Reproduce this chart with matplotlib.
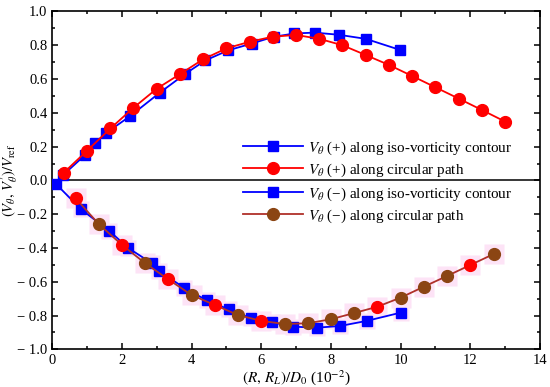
import matplotlib
matplotlib.use("Agg")
import matplotlib.pyplot as plt
from matplotlib.ticker import MultipleLocator
from matplotlib.lines import Line2D

plt.rcParams['font.family'] = ['Liberation Serif', 'DejaVu Serif']
plt.rcParams['mathtext.fontset'] = 'stix'

# Positive, iso-vorticity contour (blue squares)
x_pos_iso = [0.30, 0.94, 1.23, 1.54, 2.23, 3.09, 3.81, 4.39, 5.05, 5.72, 6.35, 6.95, 7.54, 8.23, 9.00, 9.99]
y_pos_iso = [0.03, 0.15, 0.22, 0.28, 0.38, 0.52, 0.63, 0.71, 0.77, 0.81, 0.85, 0.87, 0.875, 0.862, 0.838, 0.772]

# Positive, circular path (red circles)
x_pos_cir = [0.33, 1.00, 1.67, 2.33, 3.00, 3.67, 4.33, 5.00, 5.67, 6.33, 7.00, 7.67, 8.33, 9.00, 9.67,
             10.33, 11.00, 11.67, 12.33, 13.00]
y_pos_cir = [0.046, 0.176, 0.308, 0.430, 0.543, 0.630, 0.717, 0.782, 0.821, 0.851, 0.861, 0.838, 0.800,
             0.742, 0.683, 0.618, 0.551, 0.484, 0.417, 0.348]

# Negative, iso-vorticity contour (blue squares)
x_neg_iso = [0.10, 0.82, 1.64, 2.18, 2.85, 3.05, 3.78, 4.43, 5.06, 5.70, 6.30, 6.92, 7.59, 8.26, 9.02, 10.00]
y_neg_iso = [-0.02, -0.17, -0.30, -0.40, -0.49, -0.535, -0.635, -0.71, -0.763, -0.816, -0.84, -0.866,
             -0.872, -0.862, -0.832, -0.783]

# Negative, circular path (brown circles)
x_neg_cir = [0.67, 1.33, 2.00, 2.67, 3.33, 4.00, 4.67, 5.33, 6.00, 6.67, 7.33, 8.00, 8.67, 9.33, 10.00,
             10.67, 11.33, 12.00, 12.67]
y_neg_cir = [-0.106, -0.258, -0.382, -0.491, -0.586, -0.679, -0.738, -0.797, -0.832, -0.850, -0.846,
             -0.822, -0.785, -0.748, -0.694, -0.629, -0.566, -0.501, -0.436]
neg_cir_red = [True, False, True, False, True, False, True, False, True, False, False, False, False,
               True, False, False, False, True, False]

labels = [r'$V_\theta$ (+) along iso-vorticity contour',
          r'$V_\theta$ (+) along circular path',
          r'$V_\theta$ (−) along iso-vorticity contour',
          r'$V_\theta$ (−) along circular path']

BLUE = '#0000ff'
RED = '#ff0000'
BROWN = '#8b4513'
BROWN_LINE = '#b0302a'
PINK = '#fde3f6'

fig = plt.figure(figsize=(5.5, 3.87), dpi=100)
ax = fig.add_axes([0.0951, 0.0974, 0.8867, 0.8729])

ax.axhline(0, color='black', lw=1.1, zorder=1)

# pink halos around negative markers
ax.plot(x_neg_iso[1:], y_neg_iso[1:], ls='none', marker='s', ms=12, color=PINK, mec='none', zorder=2)
ax.plot(x_neg_cir, y_neg_cir, ls='none', marker='s', ms=14, color=PINK, mec='none', zorder=2)

ax.plot(x_pos_iso, y_pos_iso, color=BLUE, lw=1.3, marker='s', ms=6.5, mec=BLUE, zorder=3)
ax.plot(x_pos_cir, y_pos_cir, color=RED, lw=1.3, marker='o', ms=8.5, mec=RED, zorder=4)
ax.plot(x_neg_iso, y_neg_iso, color=BLUE, lw=1.3, marker='s', ms=6.5, mec=BLUE, zorder=3)
ax.plot(x_neg_cir, y_neg_cir, color=BROWN_LINE, lw=1.3, zorder=4)
for xv, yv, isred in zip(x_neg_cir, y_neg_cir, neg_cir_red):
    c = RED if isred else BROWN
    ax.plot([xv], [yv], ls='none', marker='o', ms=8.5, color=c, mec=c, zorder=5)

ax.set_xlim(0, 14)
ax.set_ylim(-1.0, 1.0)
ax.xaxis.set_major_locator(MultipleLocator(2))
ax.xaxis.set_minor_locator(MultipleLocator(1))
ax.yaxis.set_minor_locator(MultipleLocator(0.1))
ax.set_yticks([1.0, 0.8, 0.6, 0.4, 0.2, 0.0, -0.2, -0.4, -0.6, -0.8, -1.0])
ax.set_yticklabels(['1.0', '0.8', '0.6', '0.4', '0.2', '0.0', '− 0.2', '− 0.4', '− 0.6', '− 0.8', '− 1.0'])
ax.tick_params(which='both', direction='in', top=True, right=True, labelsize=10.5, width=1.1)
ax.tick_params(which='major', length=4)
ax.tick_params(which='minor', length=2)
for s in ax.spines.values():
    s.set_linewidth(1.2)

ax.set_xlabel(r'$(R,\, R_L)/D_0$ (10$^{-2}$)', fontsize=11, labelpad=1)
ax.set_ylabel(r'$(V_\theta,\, V^{\prime}_\theta)/V_{\rm ref}$', fontsize=10.5)
ax.yaxis.set_label_coords(-0.066, 0.5)

h1 = Line2D([], [], color=BLUE, lw=1.3, marker='s', ms=6.5)
h2 = Line2D([], [], color=RED, lw=1.3, marker='o', ms=8.5)
h3 = Line2D([], [], color=BLUE, lw=1.3, marker='s', ms=6.5)
h4 = Line2D([], [], color=BROWN_LINE, lw=1.3, marker='o', ms=8.5, mfc=BROWN, mec=BROWN)

leg1 = ax.legend([h1, h2], labels[:2], loc='lower left', bbox_to_anchor=(0.39, 0.505),
                 frameon=False, fontsize=10.9, handlelength=4.0, handletextpad=0.35,
                 borderpad=0, borderaxespad=0, labelspacing=0.3)
ax.add_artist(leg1)
ax.legend([h3, h4], labels[2:], loc='upper left', bbox_to_anchor=(0.39, 0.485),
          frameon=False, fontsize=10.9, handlelength=4.0, handletextpad=0.35,
          borderpad=0, borderaxespad=0, labelspacing=0.3)

fig.savefig('out.png', dpi=100)
